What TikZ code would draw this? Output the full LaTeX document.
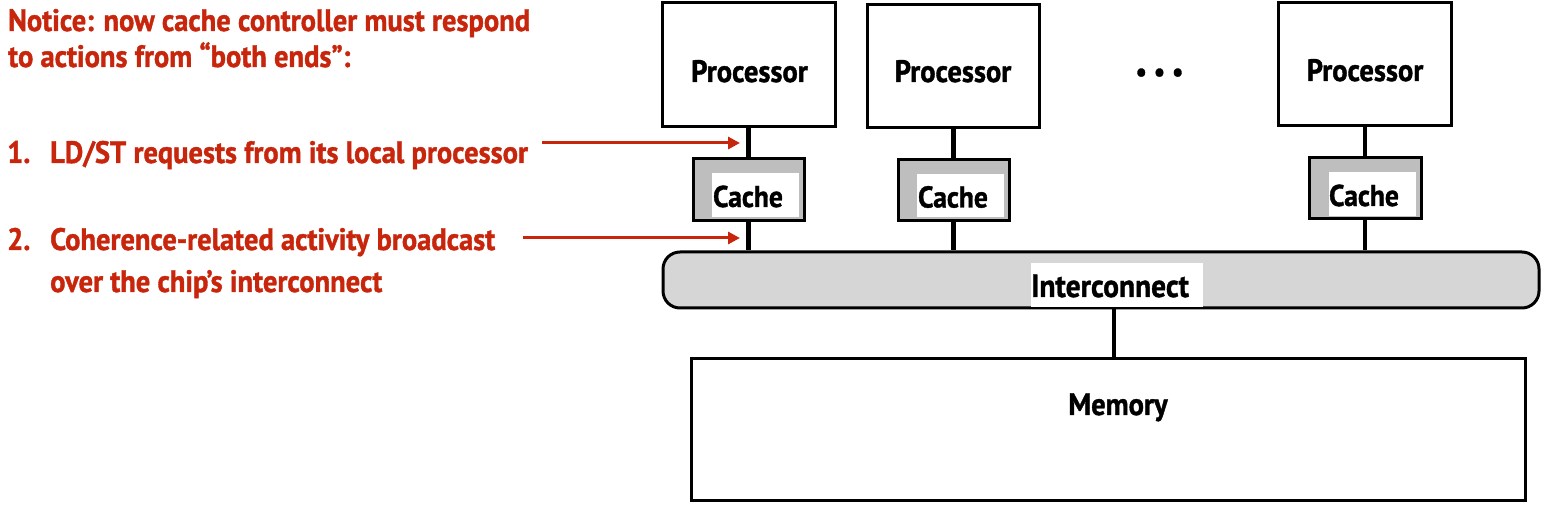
\documentclass[tikz,border=0pt]{standalone}
\usepackage{fontspec}
\setmainfont{PT Sans}[FakeStretch=0.92,BoldFeatures={FakeBold=1.2}]
\usetikzlibrary{arrows.meta}
\definecolor{slidered}{RGB}{200,38,12}
\definecolor{cachegray}{RGB}{190,190,190}
\definecolor{busgray}{RGB}{214,214,214}
\tikzset{
  box/.style={draw=black,line width=3pt,fill=white,inner sep=0pt,minimum width=#1},
  blk/.style={inner sep=0pt,font=\bfseries\fontsize{31}{31}\selectfont,anchor=base},
  redtxt/.style={inner sep=0pt,anchor=base west,text=slidered,font=\bfseries\fontsize{31}{31}\selectfont},
  wire/.style={line width=4.5pt},
  redarrow/.style={draw=slidered,line width=3pt,-{Triangle[length=12pt,width=12pt]}},
  cachebox/.style={draw=black,line width=3pt,fill=cachegray,inner sep=0pt},
  whitepatch/.style={fill=white,draw=none,inner sep=0pt},
}
\begin{document}
\begin{tikzpicture}[x=1pt,y=-1pt]
\useasboundingbox (0,0) rectangle (1553,518);
% processors
\node[box=173pt,minimum height=124pt] (p1) at (748.5,65) {};
\node[box=172pt,minimum height=123pt] (p2) at (953,66.5) {};
\node[box=173pt,minimum height=123pt] (p3) at (1364.5,64.5) {};
\node[blk] (p1t) at (749.5,82) {Processor};
\node[blk] (p2t) at (953,82) {Processor};
\node[blk] (p3t) at (1365,81) {Processor};
\node[inner sep=0pt,anchor=base,font=\bfseries\fontsize{27}{27}\selectfont] (dots) at (1159.5,81) {\textbullet\kern7pt\textbullet\kern7pt\textbullet};
% caches
\node[cachebox,minimum width=111pt,minimum height=62pt] (c1) at (748.5,190) {};
\node[cachebox,minimum width=111pt,minimum height=61pt] (c2) at (953.5,190.5) {};
\node[cachebox,minimum width=112pt,minimum height=61pt] (c3) at (1365,188.5) {};
\node[whitepatch,minimum width=87pt,minimum height=44pt] (c1w) at (755.5,195) {};
\node[whitepatch,minimum width=87pt,minimum height=43pt] (c2w) at (960.5,195.5) {};
\node[whitepatch,minimum width=87pt,minimum height=44pt] (c3w) at (1372.5,194) {};
\node[blk,font=\bfseries\fontsize{30}{30}\selectfont] (c1t) at (748,207) {Cache};
\node[blk,font=\bfseries\fontsize{30}{30}\selectfont] (c2t) at (953,207.5) {Cache};
\node[blk,font=\bfseries\fontsize{30}{30}\selectfont] (c3t) at (1364,206) {Cache};
% interconnect
\node[draw=black,line width=3pt,fill=busgray,rounded corners=17pt,minimum width=876pt,minimum height=56pt,inner sep=0pt] (ic) at (1101,280) {};
\node[whitepatch,minimum width=172pt,minimum height=44pt] (icw) at (1117,285) {};
\node[blk,font=\bfseries\fontsize{32}{32}\selectfont] (ict) at (1110,297) {Interconnect};
% memory
\node[box=834pt,minimum height=141pt] (mem) at (1108,429.5) {};
\node[blk] (memt) at (1118,415) {Memory};
% wires
\draw[wire] (p1.south -| c1.north) -- (c1.north);
\draw[wire] (p2.south -| c2.north) -- (c2.north);
\draw[wire] (p3.south -| c3.north) -- (c3.north);
\draw[wire] (c1.south) -- (c1.south |- ic.north);
\draw[wire] (c2.south) -- (c2.south |- ic.north);
\draw[wire] (c3.south) -- (c3.south |- ic.north);
\coordinate (icm) at (1114,308);
\draw[wire] (icm) -- (icm |- mem.north);
% red text
\node[redtxt] (n1) at (8,31) {Notice: now cache controller must respond};
\node[redtxt] (n2) at (8,67) {to actions from “both ends”:};
\node[redtxt] (i1n) at (7,163) {1.};
\node[redtxt] (i1) at (50,163) {LD/ST requests from its local processor};
\node[redtxt] (i2n) at (7,250) {2.};
\node[redtxt] (i2) at (50,250) {Coherence-related activity broadcast};
\node[redtxt] (i2b) at (50,292) {over the chip’s interconnect};
% arrows
\coordinate (a1s) at (542,143);
\coordinate (a1e) at (740,143);
\coordinate (a2s) at (523,238);
\coordinate (a2e) at (740,238);
\draw[redarrow] (a1s) -- (a1e);
\draw[redarrow] (a2s) -- (a2e);
\end{tikzpicture}
\end{document}
